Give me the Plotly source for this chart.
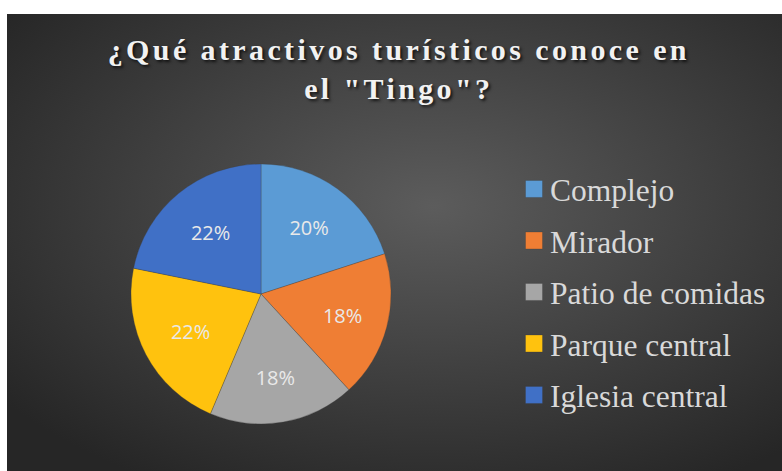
import plotly.graph_objects as go
import urllib.parse

categories = ["Complejo", "Mirador", "Patio de comidas", "Parque central", "Iglesia central"]
counts = [11, 10, 10, 12, 12]
colors = ["#5b9bd5", "#ef7e34", "#a6a6a6", "#ffc20e", "#4070c6"]
title_text = '¿Qué atractivos turísticos conoce en<br>el "Tingo"?'

W, H = 782, 471

svg = (
    '<svg xmlns="http://www.w3.org/2000/svg" width="775" height="457" viewBox="0 0 775 457" preserveAspectRatio="none">'
    '<defs><radialGradient id="g" cx="55%" cy="42%" r="70%">'
    '<stop offset="0%" stop-color="#5c5c5c"/><stop offset="100%" stop-color="#262626"/>'
    '</radialGradient></defs><rect width="775" height="457" fill="url(#g)"/></svg>'
)
bg_src = "data:image/svg+xml;charset=utf-8," + urllib.parse.quote(svg)

fig = go.Figure()
fig.add_trace(go.Pie(
    labels=categories,
    values=counts,
    sort=False,
    direction="clockwise",
    rotation=0,
    marker=dict(colors=colors, line=dict(color="rgba(60,60,60,0.5)", width=0.6)),
    texttemplate="%{percent:.0%}",
    textposition="inside",
    insidetextorientation="horizontal",
    textfont=dict(family="Open Sans", size=20, color="#e9e9e9"),
    domain=dict(x=[131 / W, 391 / W], y=[(H - 424) / H, (H - 164) / H]),
    hoverinfo="label+percent",
))

fig.update_layout(
    width=W, height=H,
    margin=dict(l=0, r=0, t=0, b=0),
    paper_bgcolor="white",
    images=[dict(
        source=bg_src, xref="paper", yref="paper",
        x=7 / W, y=1 - 14 / H, sizex=1 - 7 / W, sizey=1 - 14 / H,
        xanchor="left", yanchor="top", sizing="stretch", layer="below",
    )],
    title=dict(
        text=title_text,
        x=0.51, xanchor="center",
        yref="container", y=1 - 60 / H, yanchor="top",
        font=dict(family="Liberation Serif", size=30, color="#f2f2f2", weight="bold",
                  shadow="2px 2px 3px rgba(0,0,0,0.7)"),
    ),
    legend=dict(
        x=510 / W, xanchor="left",
        y=1 - 162 / H, yanchor="top",
        font=dict(family="Liberation Serif", size=31.5, color="#d9d9d9"),
        bgcolor="rgba(0,0,0,0)",
    ),
)

post = """
document.body.style.margin = '0';
document.querySelectorAll('.gtitle').forEach(function(e){ e.style.letterSpacing = '3.4px'; });
var items = document.querySelectorAll('.legend .traces');
var y0 = null;
items.forEach(function(g, i){
  var t = g.getAttribute('transform') || '';
  var m = t.match(/translate\\(([-\\d.]+)[ ,]+([-\\d.]+)\\)/);
  if (m) {
    var x = parseFloat(m[1]), y = parseFloat(m[2]);
    if (y0 === null) y0 = y;
    g.setAttribute('transform', 'translate(' + x + ',' + (y0 + i * 51.5) + ')');
  }
});
document.querySelectorAll('.legend .scrollbox').forEach(function(e){ e.removeAttribute('clip-path'); });
document.querySelectorAll('.legend .legendpoints path').forEach(function(p){
  p.setAttribute('d', 'M12.5,8.5H-4.5V-8.5H12.5Z');
});
"""
fig.write_html("out.html", post_script=post, config={"displayModeBar": False})
